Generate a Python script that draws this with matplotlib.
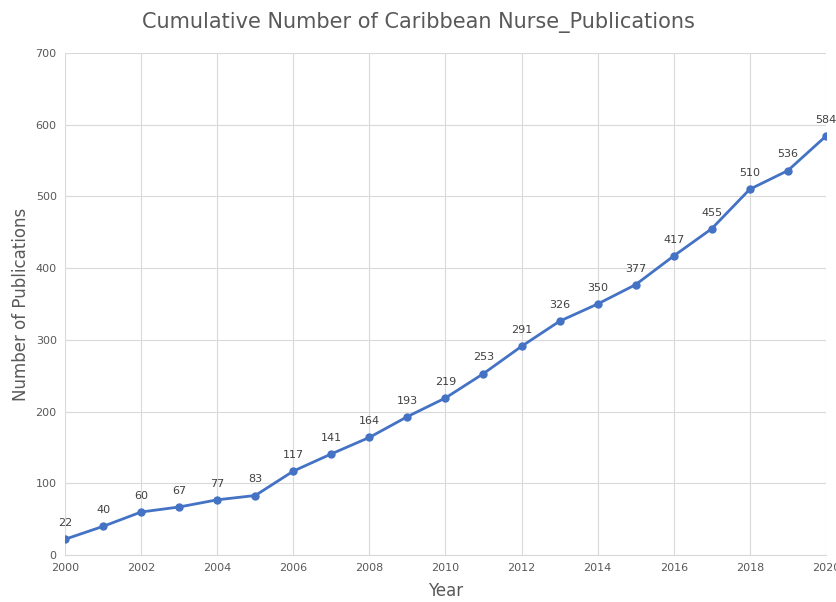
import matplotlib.pyplot as plt

years = list(range(2000, 2021))
counts = [22, 40, 60, 67, 77, 83, 117, 141, 164, 193, 219, 253, 291, 326, 350,
          377, 417, 455, 510, 536, 584]
x_ticks = list(range(2000, 2021, 2))
y_ticks = list(range(0, 701, 100))

line_color = "#4472C4"
text_gray = "#595959"

fig = plt.figure(figsize=(8.37, 6.02), dpi=100)
ax = fig.add_axes([0.0777, 0.078, 0.909, 0.834])

ax.plot(years, counts, color=line_color, linewidth=2, marker="o", markersize=5)
for yr, c in zip(years, counts):
    ax.annotate(str(c), (yr, c), textcoords="offset points", xytext=(0, 8),
                ha="center", va="bottom", fontsize=8, color="#404040")

ax.set_xlim(2000, 2020)
ax.set_ylim(0, 700)
ax.set_xticks(x_ticks)
ax.set_yticks(y_ticks)
ax.tick_params(axis="both", length=0, labelsize=8, labelcolor=text_gray, pad=6)
ax.grid(True, color="#d9d9d9", linewidth=0.8)
ax.set_axisbelow(True)
for side in ["top", "right", "left"]:
    ax.spines[side].set_visible(False)
ax.spines["bottom"].set_color("#d9d9d9")

ax.set_xlabel("Year", fontsize=12, color=text_gray, labelpad=6)
ax.set_ylabel("Number of Publications", fontsize=12, color=text_gray, labelpad=4)
fig.suptitle("Cumulative Number of Caribbean Nurse_Publications", fontsize=15,
             color=text_gray, y=0.98)

fig.savefig("out.png", dpi=100)
